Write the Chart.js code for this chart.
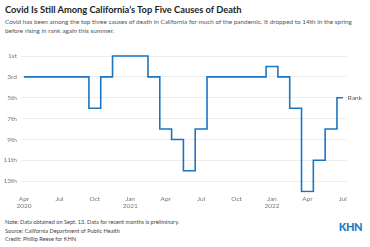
<!DOCTYPE html>
<html>
<head>
  <title>Covid rank chart</title>
  <script src="https://cdn.jsdelivr.net/npm/chart.js"></script>
  <style>
    body {
      margin: 0;
      width: 370px;
      height: 247px;
      font-family: Lato, "Open Sans", sans-serif;
      background: #fff;
      position: relative;
      overflow: hidden;
    }
    h1 {
      position: absolute;
      left: 5px;
      top: 4px;
      margin: 0;
      font-size: 9.3px;
      font-weight: 700;
      color: #222;
    }
    .sub {
      position: absolute;
      left: 5px;
      top: 17px;
      width: 362px;
      font-size: 6.4px;
      line-height: 9px;
      color: #555;
    }
    .chart {
      position: absolute;
      left: 0;
      top: 44px;
      width: 370px;
      height: 168px;
    }
    .notes {
      position: absolute;
      left: 5px;
      top: 218px;
      font-size: 5.6px;
      line-height: 8.7px;
      color: #444;
    }
    .logo {
      position: absolute;
      right: 8px;
      top: 220px;
      font-size: 11px;
      font-weight: 900;
      color: #1a7ac4;
      letter-spacing: -0.5px;
    }
  </style>
</head>
<body>
  <h1>Covid Is Still Among California’s Top Five Causes of Death</h1>
  <div class="sub">Covid has been among the top three causes of death in California for much of the pandemic. It dropped to 14th in the spring before rising in rank again this summer.</div>
  <div class="chart"><canvas id="myChart"></canvas></div>
  <div class="notes">
    Note: Data obtained on Sept. 13. Data for recent months is preliminary.<br>
    Source: California Department of Public Health<br>
    Credit: Phillip Reese for KHN
  </div>
  <div class="logo">KHN</div>
  <script>
    // months since April 2020
    const months = [0, 1, 2, 3, 4, 5, 6, 7, 8, 9, 10, 11, 12, 13, 14, 15, 16, 17, 18, 19, 20, 21, 22, 23, 24, 25, 26, 27];
    const rank = [3, 3, 3, 3, 3, 3, 6, 3, 1, 1, 1, 3, 8, 9, 12, 8, 3, 3, 3, 3, 3, 2, 3, 6, 14, 11, 8, 5];
    const tickMonths = [0, 3, 6, 9, 12, 15, 18, 21, 24, 27];
    const tickLabels = [['Apr', '2020'], 'Jul', 'Oct', ['Jan', '2021'], 'Apr', 'Jul', 'Oct', ['Jan', '2022'], 'Apr', 'Jul'];
    const rankTicks = [1, 3, 5, 7, 9, 11, 13];
    const rankLabels = ['1st', '3rd', '5th', '7th', '9th', '11th', '13th'];

    const endLabel = {
      id: 'endLabel',
      afterDatasetsDraw(chart) {
        const meta = chart.getDatasetMeta(0);
        const pt = meta.data[meta.data.length - 1];
        const ctx = chart.ctx;
        ctx.save();
        ctx.font = '6.5px Lato, sans-serif';
        ctx.fillStyle = '#555';
        ctx.textBaseline = 'middle';
        ctx.fillText('Rank', pt.x + 5, pt.y);
        ctx.restore();
      }
    };

    const ctx = document.getElementById('myChart').getContext('2d');
    new Chart(ctx, {
      type: 'line',
      data: {
        datasets: [{
          data: months.map((m, i) => ({ x: m, y: rank[i] })),
          borderColor: '#1a75c4',
          borderWidth: 1.6,
          stepped: 'middle',
          pointRadius: 0,
          fill: false
        }]
      },
      options: {
        responsive: true,
        maintainAspectRatio: false,
        animation: false,
        layout: { padding: { top: 7.8, right: 23, left: 0, bottom: 0 } },
        plugins: {
          legend: { display: false },
          tooltip: { enabled: false }
        },
        scales: {
          x: {
            type: 'linear',
            min: -0.25,
            max: 27.35,
            grid: { display: false, drawTicks: false },
            border: { display: false },
            afterBuildTicks: (axis) => { axis.ticks = tickMonths.map(v => ({ value: v })); },
            afterFit: (axis) => { axis.height = 19.4; },
            ticks: {
              autoSkip: false,
              maxRotation: 0,
              padding: 2,
              color: '#777',
              font: { family: 'Lato', size: 6.5 },
              callback: (v) => tickLabels[tickMonths.indexOf(v)]
            }
          },
          y: {
            reverse: true,
            min: 0.6,
            max: 14.1,
            grid: { color: '#ededed', drawTicks: false },
            border: { display: false },
            afterBuildTicks: (axis) => { axis.ticks = rankTicks.map(v => ({ value: v })); },
            afterFit: (axis) => { axis.width = 21; },
            ticks: {
              padding: 4,
              color: '#777',
              font: { family: 'Lato', size: 6.5 },
              callback: (v) => rankLabels[rankTicks.indexOf(v)]
            }
          }
        }
      },
      plugins: [endLabel]
    });
  </script>
</body>
</html>
